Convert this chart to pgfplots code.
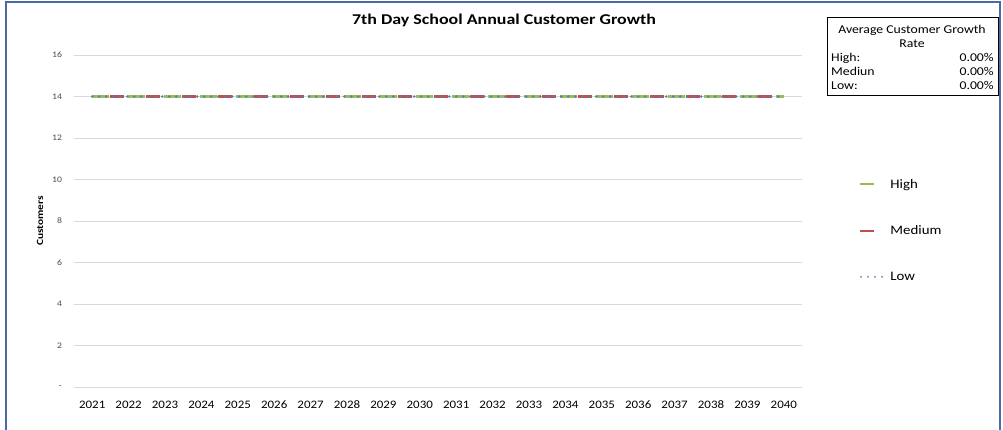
\documentclass[border=0pt]{standalone}
\usepackage{fontspec}
\setmainfont{Carlito}
\usepackage{pgfplots}
\pgfplotsset{compat=1.18}
\definecolor{hi}{HTML}{9BBB59}
\definecolor{med}{HTML}{C0504D}
\definecolor{lo}{HTML}{4F81BD}
\definecolor{gridc}{HTML}{D9D9D9}
\definecolor{framec}{HTML}{4A6AA5}
\pgfplotstableread{
x y
0 14
1 14
2 14
3 14
4 14
5 14
6 14
7 14
8 14
9 14
10 14
11 14
12 14
13 14
14 14
15 14
16 14
17 14
18 14
19 14
}\highdata
\pgfplotstableread{
x y
0 14
1 14
2 14
3 14
4 14
5 14
6 14
7 14
8 14
9 14
10 14
11 14
12 14
13 14
14 14
15 14
16 14
17 14
18 14
19 14
}\meddata
\pgfplotstableread{
x y
0 14
1 14
2 14
3 14
4 14
5 14
6 14
7 14
8 14
9 14
10 14
11 14
12 14
13 14
14 14
15 14
16 14
17 14
18 14
19 14
}\lowdata
\begin{document}
\begin{tikzpicture}[x=1bp,y=1bp]
\path[use as bounding box] (0,0) rectangle (1003,429);
\fill[white] (0,0) rectangle (1003,429);
\draw[framec, line width=1.8bp] (6,-1) -- (6,427) -- (1000,427) -- (1000,-1);
\begin{axis}[
  at={(74bp,42bp)}, anchor=south west,
  scale only axis, width=728bp, height=332bp,
  xmin=-0.5, xmax=19.5, ymin=0, ymax=16,
  ytick={0,2,4,6,8,10,12,14,16},
  yticklabels={-,2,4,6,8,10,12,14,16},
  xtick={0,1,2,3,4,5,6,7,8,9,10,11,12,13,14,15,16,17,18,19},
  xticklabels={2021,2022,2023,2024,2025,2026,2027,2028,2029,2030,2031,2032,2033,2034,2035,2036,2037,2038,2039,2040},
  axis line style={draw=none},
  major tick length=0pt,
  ymajorgrids, grid style={gridc, line width=0.9bp},
  yticklabel style={font=\fontsize{8.5}{10}\selectfont, text=black!70, xshift=-8bp, xscale=1.15},
  xticklabel style={font=\fontsize{11.5}{13}\selectfont, text=black, yshift=-10bp, xscale=1.13,
    text height=8bp, text depth=0bp},
  legend style={draw=none, fill=none, at={(axis description cs:1.078,0.633)}, anchor=north west,
    inner sep=0pt, row sep=32bp, column sep=0bp,
    nodes={font=\fontsize{13}{15}\selectfont, xscale=1.15}},
  legend cell align=left,
  clip=false,
]
\addplot[hi, line width=3bp, dash pattern=on 17bp off 19bp, forget plot] table[x=x,y=y] {\highdata};
\addplot[med, line width=3bp, dash pattern=on 14bp off 22bp, dash phase=18bp, forget plot] table[x=x,y=y] {\meddata};
\addplot[hi, legend image code/.code={\path (0bp,0bp) -- (26bp,0bp); \draw[hi, line width=2.2bp] (0bp,0bp) -- (14bp,0bp);}, draw=none] table[x=x,y=y] {\highdata};
\addlegendentry{High}
\addplot[med, legend image code/.code={\path (0bp,0bp) -- (26bp,0bp); \draw[med, line width=2.2bp] (0bp,0bp) -- (14bp,0bp);}, draw=none] table[x=x,y=y] {\meddata};
\addlegendentry{Medium}
\addplot[lo, line width=2.8bp, line cap=round, dash pattern=on 0bp off 7bp,
  legend image code/.code={\draw[lo, line width=2bp, line cap=round, dash pattern=on 0bp off 7bp] (1bp,0bp) -- (27bp,0bp);}] table[x=x,y=y] {\lowdata};
\addlegendentry{Low}
\end{axis}
\node[font=\bfseries\fontsize{15}{17}\selectfont, xscale=1.2] at (504,409) {7th Day School Annual Customer Growth};
\node[rotate=90, xscale=1.2, font=\bfseries\fontsize{9.5}{11}\selectfont] at (40,208) {Customers};
\draw[black, line width=0.9bp] (827,334) rectangle (998,412);
\node[font=\fontsize{12}{14}\selectfont, xscale=1.15, anchor=base] at (912,395) {Average Customer Growth};
\node[font=\fontsize{12}{14}\selectfont, xscale=1.15, anchor=base] at (912,382) {Rate};
\node[font=\fontsize{12}{14}\selectfont, xscale=1.15, anchor=base west, inner sep=0pt] at (831,368) {High:};
\node[font=\fontsize{12}{14}\selectfont, xscale=1.15, anchor=base west, inner sep=0pt] at (831,354) {Mediun};
\node[font=\fontsize{12}{14}\selectfont, xscale=1.15, anchor=base west, inner sep=0pt] at (831,340) {Low:};
\node[font=\fontsize{12}{14}\selectfont, xscale=1.15, anchor=base east, inner sep=0pt] at (994,368) {0.00\%};
\node[font=\fontsize{12}{14}\selectfont, xscale=1.15, anchor=base east, inner sep=0pt] at (994,354) {0.00\%};
\node[font=\fontsize{12}{14}\selectfont, xscale=1.15, anchor=base east, inner sep=0pt] at (994,340) {0.00\%};
\end{tikzpicture}
\end{document}
